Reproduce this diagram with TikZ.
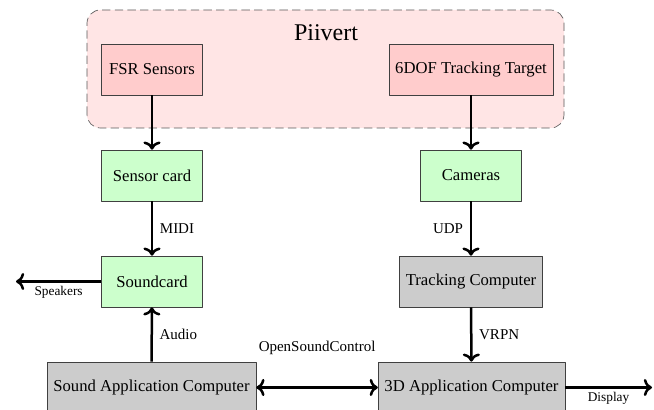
\documentclass[tikz,border=0pt]{standalone}
\usepackage{fontspec}
\setmainfont{Liberation Serif}
\usetikzlibrary{arrows.meta,positioning,fit}

\begin{document}
\begin{tikzpicture}[
    >=To, line join=round,
    x=0.6pt, y=0.6pt,
    blk/.style={draw=black!75, minimum width=60.6pt, minimum height=30.6pt, inner sep=2pt},
    hwbox/.style={blk, fill=red!20},
    cardbox/.style={blk, fill=green!20},
    pcbox/.style={blk, fill=gray!40},
    link/.style={->, line width=1.5pt},
    lbl/.style={font=\small, inner sep=4pt},
    tiny/.style={font=\footnotesize, inner sep=2pt}
  ]
  \useasboundingbox (0,0) rectangle (654,410);

  % ---- rows (y) ----
  \def\yA{340.5} % sensors
  \def\yB{234.5} % cards / cameras
  \def\yC{128.5} % soundcard / tracking
  \def\yD{22.5}  % application computers
  \def\xL{152}   % left column
  \def\xR{471}   % right column

  %==================== Piivert group ====================
  \draw[draw=black!65, fill=red!10, rounded corners=8pt, dash pattern=on 5pt off 2.6pt]
    (87,282) rectangle (564,400);
  \node[font=\Large] (piivert) at (326,377) {Piivert};

  \node[hwbox] (fsr) at (\xL,\yA) {FSR Sensors};
  \node[hwbox, minimum width=98.4pt] (target) at (\xR,\yA) {6DOF Tracking Target};

  %==================== middle rows ====================
  \node[cardbox] (sensor) at (\xL,\yB) {Sensor card};
  \node[cardbox] (cams) at (\xR,\yB) {Cameras};

  \node[cardbox] (sound) at (\xL,\yC) {Soundcard};
  \node[pcbox, minimum width=86pt] (track) at (\xR,\yC) {Tracking Computer};

  %==================== bottom row ====================
  \node[pcbox, minimum width=125.4pt] (sapp) at (151.5,\yD) {Sound Application Computer};
  \node[pcbox, minimum width=112pt] (dapp) at (471.5,\yD) {3D Application Computer};

  \coordinate (spk) at (16,0);
  \coordinate (disp) at (652,0);

  % ---- connectors ----
  \draw[link] (fsr) -- (sensor);
  \draw[link] (target) -- (cams);
  \draw[link] (sensor) -- node[lbl, right] {MIDI} (sound);
  \draw[link] (cams) -- node[lbl, left] {UDP} (track);
  \draw[link] (sapp) -- node[lbl, right] {Audio} (sound);
  \draw[link] (track) -- node[lbl, right] {VRPN} (dapp);
  \draw[link] (sound.west) -- node[tiny, below] {Speakers} (sound.west -| spk);
  \draw[link, <->] (sapp) -- node[lbl, above=15pt] {OpenSoundControl} (dapp);
  \draw[link] (dapp.east) -- node[tiny, below] {Display} (dapp.east -| disp);

\end{tikzpicture}
\end{document}
